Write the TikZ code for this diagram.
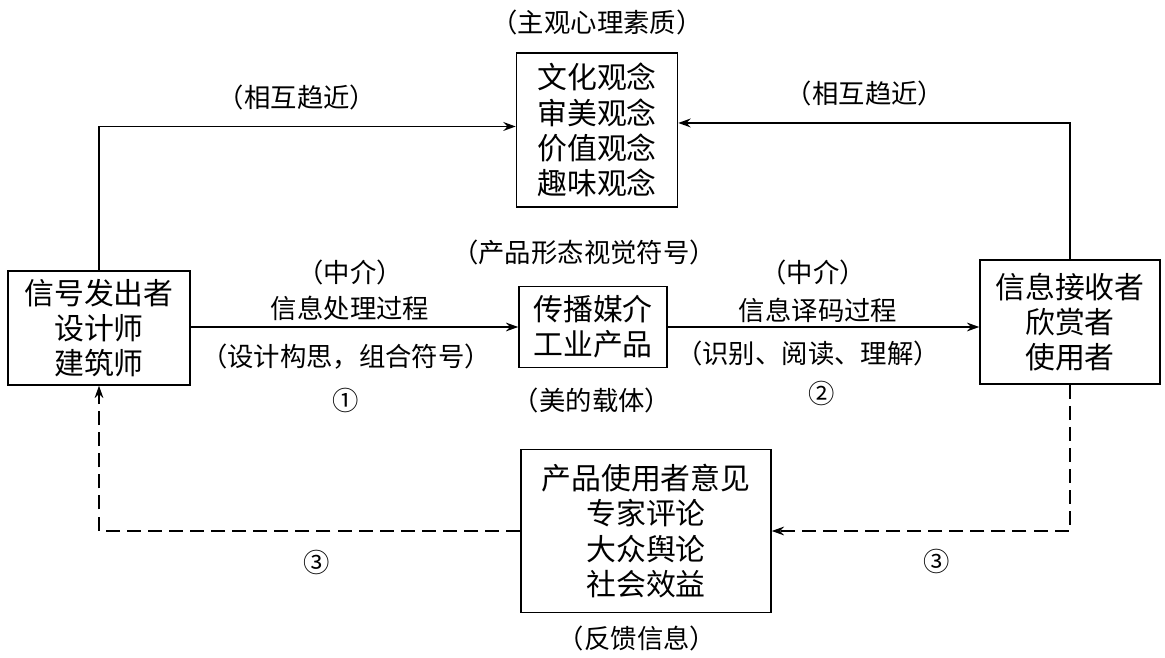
\documentclass[tikz,border=0pt]{standalone}
\usepackage{fontspec}
\setmainfont{Noto Sans CJK SC}
\usetikzlibrary{positioning}
\usetikzlibrary{arrows.meta}

\begin{document}
\begin{tikzpicture}[x=0.02cm,y=-0.02cm,
                box/.style={draw,line width=0.9pt,align=center,inner sep=0pt,
                            font=\fontsize{17}{20}\selectfont},
                lbl/.style={font=\fontsize{15}{18}\selectfont},
                arr/.style={line width=0.8pt,-{Stealth[length=7pt,width=5pt]}},
                fb/.style={arr,dash pattern=on 8pt off 4pt}]
  \useasboundingbox (0,0) rectangle (1165,658);
  % boxes
  \node[box,minimum width=3.64cm,minimum height=2.28cm] (sender) at (99,328) {信号发出者\\设计师\\建筑师};
  \node[box,minimum width=3.6cm,minimum height=2.48cm] (receiver) at (1070,322) {信息接收者\\欣赏者\\使用者};
  \node[box,minimum width=2.96cm,minimum height=1.62cm] (medium) at (593,327) {传播媒介\\工业产品};
  \node[box,minimum width=3.22cm,minimum height=3.08cm] (concept) at (597,130) {文化观念\\审美观念\\价值观念\\趣味观念};
  \node[box,minimum width=5cm,minimum height=3.26cm] (feedback) at (646,531) {产品使用者意见\\专家评论\\大众舆论\\社会效益};
  % labels
  \node[lbl] (subj) at (597,22) {（主观心理素质）};
  \node[lbl] (nearL) at (297,97) {（相互趋近）};
  \node[lbl] (nearR) at (865,93) {（相互趋近）};
  \node[lbl] (sign) at (584,252) {（产品形态视觉符号）};
  \node[lbl] (carrier) at (592,400) {（美的载体）};
  \node[lbl] (fbinfo) at (637,638) {（反馈信息）};
  \node[lbl] (midL) at (350,272) {（中介）};
  \node[lbl] (procL) at (350,308) {信息处理过程};
  \node[lbl] (descL) at (346,357) {（设计构思，组合符号）};
  \node[lbl] (numL) at (346,400) {①};
  \node[lbl] (midR) at (813,272) {（中介）};
  \node[lbl] (procR) at (818,310) {信息译码过程};
  \node[lbl] (descR) at (808,353) {（识别、阅读、理解）};
  \node[lbl] (numR) at (822,393) {②};
  \node[lbl] (fbL) at (317,562) {③};
  \node[lbl] (fbR) at (937,561) {③};
  % connectors
  \draw[arr,line width=1.1pt] (sender.north) |- ([yshift=2pt]concept.west);
  \draw[arr,line width=1.1pt] (receiver.north) |- ([yshift=4pt]concept.east);
  \draw[arr] (sender.east |- medium.west) -- (medium.west);
  \draw[arr] (medium.east) -- (medium.east -| receiver.west);
  \draw[fb] (receiver.south) |- (feedback.east);
  \draw[fb] (feedback.west) -| (sender.south);
\end{tikzpicture}
\end{document}
